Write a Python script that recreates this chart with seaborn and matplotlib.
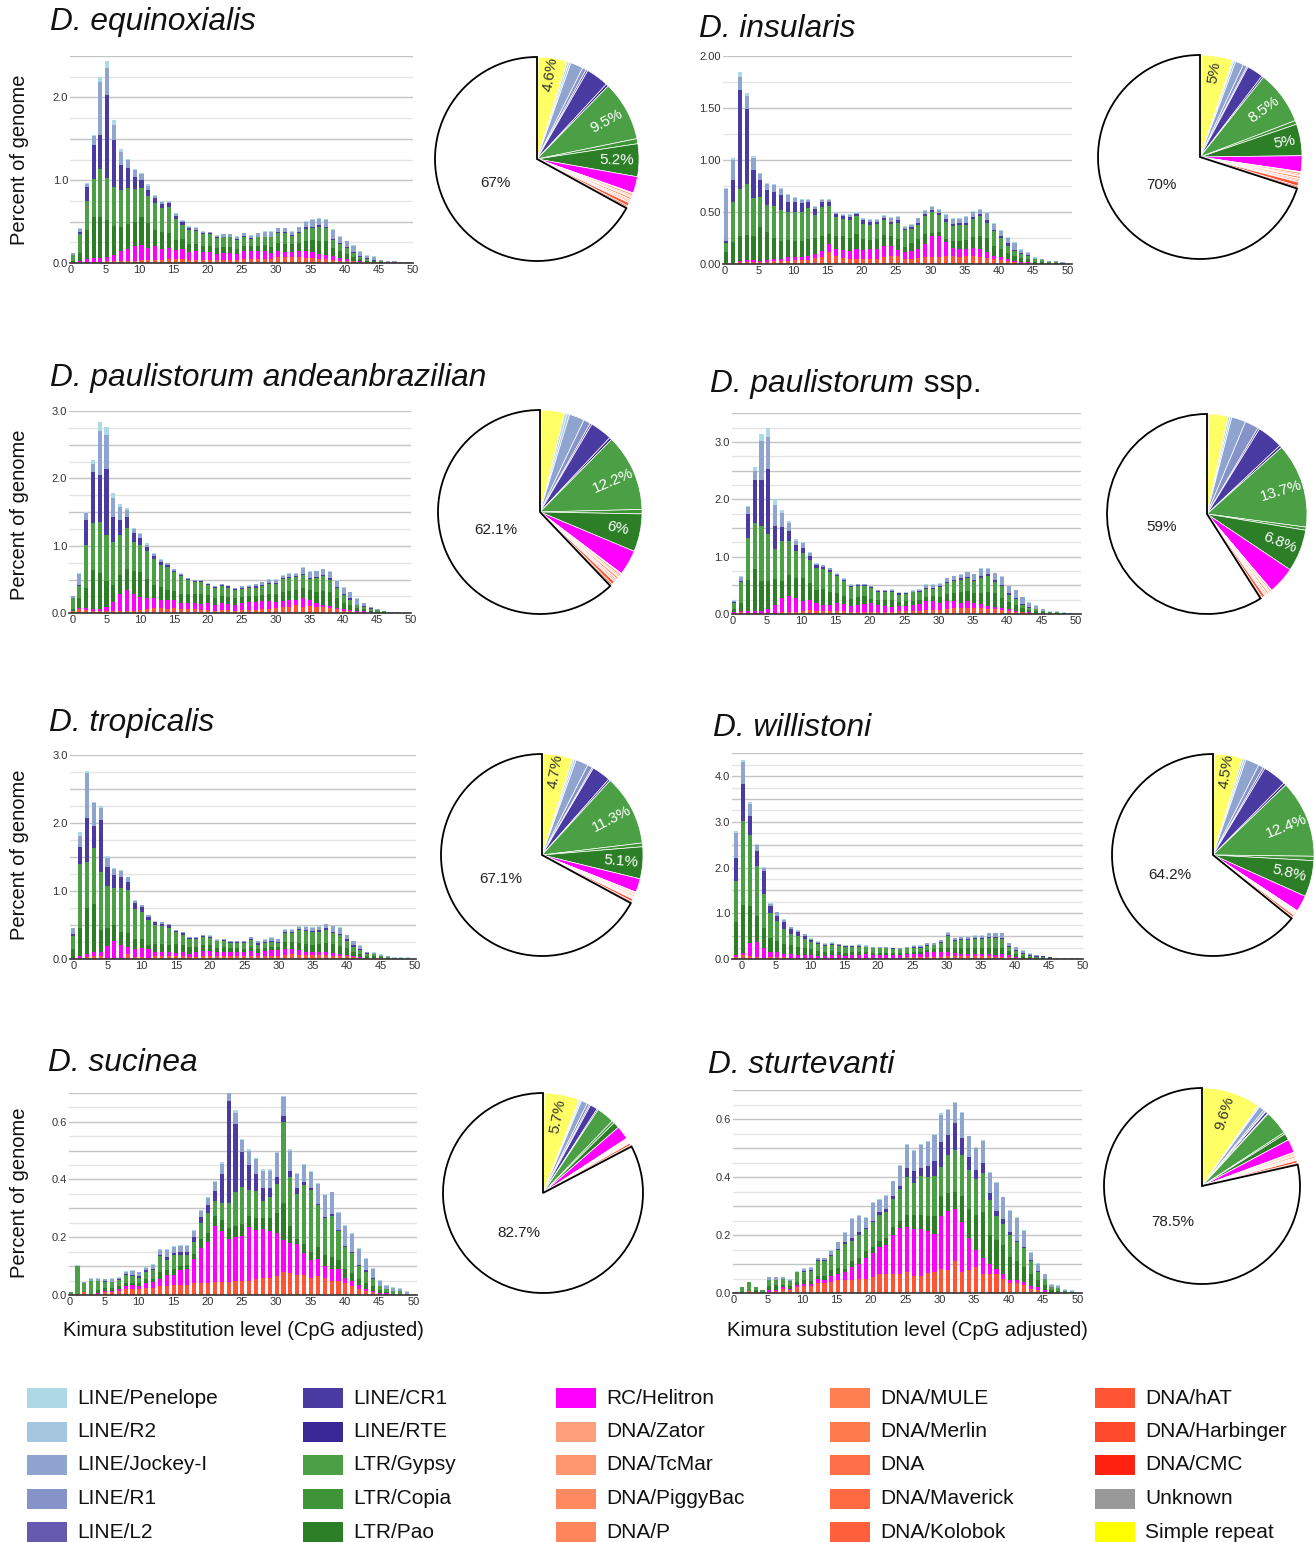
import numpy as np
import pandas as pd
import matplotlib
matplotlib.use("Agg")
import matplotlib.pyplot as plt
from matplotlib.patches import Rectangle
from matplotlib.ticker import MultipleLocator, FuncFormatter
import seaborn as sns

sns.set_theme(style="white")
plt.rcParams["font.family"] = ["Liberation Sans", "DejaVu Sans"]

# ---------------------------------------------------------------- classes
LEGEND_ORDER = [
    "LINE/Penelope", "LINE/R2", "LINE/Jockey-I", "LINE/R1", "LINE/L2",
    "LINE/CR1", "LINE/RTE", "LTR/Gypsy", "LTR/Copia", "LTR/Pao",
    "RC/Helitron", "DNA/Zator", "DNA/TcMar", "DNA/PiggyBac", "DNA/P",
    "DNA/MULE", "DNA/Merlin", "DNA", "DNA/Maverick", "DNA/Kolobok",
    "DNA/hAT", "DNA/Harbinger", "DNA/CMC", "Unknown", "Simple repeat",
]
CLASS_COLORS = [
    "#ADD8E6", "#A6C6E0", "#90A4D0", "#8693C9", "#6559B0",
    "#4A3BA3", "#3A2896", "#4BA045", "#3E9437", "#2C7F27",
    "#FF00FF", "#FFA07A", "#FF9870", "#FF8A62", "#FF855B",
    "#FF7F50", "#FF7A4D", "#FF7048", "#FF6A42", "#FF5F3B",
    "#FF5534", "#FF4A2D", "#FF2211", "#999999", "#FFFF00",
]
PALETTE = dict(zip(LEGEND_ORDER, CLASS_COLORS))

# ------------------------------------------------ repeat landscapes (% genome)
# D. equinoxialis, Kimura bins 0..49
EQU_PEN = [.005, .01, .01, .02, .07, .09, .06, .04, .02, .02,
           .02, .02, .01, .01, .01, .01, .01, .01, .01, .01,
           .01, .005, .005, .005, .005, .005, .005, .005, .005, .005,
           .005, .005, .005, .005, .005, .01, .01, .01, .01, .01,
           .01, .01, .01, .01, .01, .005, .005, 0, .005, 0]
EQU_JOCKEY = [.02, .04, .04, .11, .64, .32, .19, .16, .09, .08,
              .07, .05, .03, .03, .02, .02, .02, .02, .02, .02,
              .01, .02, .03, .03, .03, .03, .03, .04, .06, .06,
              .05, .05, .04, .06, .07, .08, .07, .08, .11, .08,
              .07, .08, .05, .03, .03, .01, .01, .01, .01, .01]
EQU_CR1 = [0, .02, .17, .40, .40, 1.0, .56, .30, .24, .15,
           .09, .07, .06, .05, .04, .04, .03, .02, .01, .01,
           .01, .01, .01, .01, .01, .01, .01, .01, .01, .01,
           .01, .01, .01, .01, .02, .02, .02, .02, .01, .01,
           .01, .01, .01, .01, .01, .005, 0, 0, 0, 0]
EQU_GYPSY = [.07, .23, .35, .46, .58, .51, .47, .44, .44, .39,
             .36, .33, .32, .29, .32, .25, .17, .17, .16, .14,
             .14, .12, .12, .12, .11, .11, .09, .10, .09, .12,
             .12, .13, .10, .12, .14, .14, .17, .16, .10, .09,
             .07, .05, .02, .02, .01, .01, 0, 0, 0, 0]
EQU_PAO = [.02, .10, .35, .50, .50, .45, .35, .30, .30, .30,
           .33, .30, .20, .20, .18, .12, .12, .10, .09, .08,
           .08, .07, .07, .07, .06, .06, .06, .06, .07, .07,
           .09, .10, .10, .10, .12, .15, .16, .16, .10, .08,
           .06, .04, .03, .02, .01, .005, .005, 0, 0, 0]
EQU_HELI = [0, .01, .04, .05, .05, .05, .08, .11, .14, .17,
            .18, .14, .16, .13, .13, .11, .12, .09, .10, .09,
            .09, .07, .08, .08, .07, .10, .09, .10, .10, .07,
            .08, .06, .06, .07, .09, .07, .06, .05, .04, .03,
            .02, .01, .01, 0, 0, 0, 0, .005, 0, 0]
EQU_DNA = [.005, .01, .01, .01, .01, .02, .02, .03, .03, .03,
           .04, .04, .04, .04, .05, .05, .05, .04, .04, .04,
           .04, .04, .04, .04, .04, .05, .05, .05, .05, .05,
           .07, .07, .07, .07, .06, .06, .05, .05, .04, .03,
           .03, .02, .01, .01, .01, .005, .01, .005, 0, 0]

# D. insularis
INS_PEN = [.01, .02, .04, .03, .02, .01, .01, .01, .01, .01,
           .01, .01, .01, .01, .01, .01, .01, .01, .01, .01,
           .01, .01, .01, .01, .01, .01, .005, .005, .005, .01,
           .01, .01, .01, .01, .01, .01, .01, .01, .01, .01,
           .01, .01, .01, .01, .005, .005, .005, .005, .005, .005]
INS_JOCKEY = [.50, .19, .13, .12, .12, .06, .06, .07, .06, .06,
              .04, .03, .02, .02, .02, .02, .01, .01, .02, .01,
              .01, .01, .01, .02, .03, .03, .02, .02, .04, .03,
              .03, .03, .04, .04, .03, .05, .05, .04, .07, .06,
              .05, .05, .06, .03, .02, .01, .01, .01, .01, .01]
INS_CR1 = [.02, .21, .95, .72, .26, .16, .14, .13, .14, .10,
           .10, .09, .06, .06, .05, .04, .03, .03, .03, .02,
           .03, .03, .02, .02, .02, .02, .01, .02, .02, .02,
           .02, .02, .02, .02, .02, .02, .02, .02, .02, .01,
           .02, .02, .01, .01, .01, 0, 0, 0, 0, 0]
INS_GYPSY = [.08, .39, .45, .49, .37, .29, .26, .31, .30, .27,
             .28, .28, .30, .22, .28, .27, .18, .16, .17, .17,
             .15, .15, .15, .14, .12, .16, .16, .14, .14, .17,
             .20, .16, .17, .15, .16, .15, .17, .19, .15, .14,
             .10, .07, .05, .04, .03, .03, .02, .01, .01, .01]
INS_PAO = [.11, .20, .24, .24, .23, .33, .27, .20, .17, .16,
           .15, .15, .16, .15, .14, .10, .12, .13, .12, .14,
           .10, .08, .09, .10, .09, .10, .05, .07, .09, .10,
           .03, .04, .03, .06, .07, .08, .10, .12, .13, .10,
           .08, .06, .05, .04, .03, .02, .02, .01, .01, 0]
INS_HELI = [0, 0, .01, .02, .02, .01, .02, .02, .02, .04,
            .03, .03, .04, .04, .06, .07, .07, .08, .08, .10,
            .09, .10, .10, .11, .10, .06, .07, .08, .09, .12,
            .20, .20, .13, .08, .08, .07, .08, .08, .06, .03,
            .03, .02, .01, .01, .01, 0, 0, 0, 0, 0]
INS_DNA = [.01, .01, .02, .02, .02, .02, .02, .03, .03, .03,
           .04, .04, .04, .06, .07, .12, .08, .06, .05, .05,
           .05, .05, .05, .07, .08, .08, .05, .05, .06, .07,
           .07, .07, .08, .08, .07, .08, .08, .07, .06, .05,
           .04, .03, .02, .01, .01, .005, 0, 0, 0, 0]

# D. paulistorum andeanbrazilian
AND_PEN = [.01, .02, .02, .06, .13, .12, .07, .04, .03, .02,
           .02, .02, .01, .01, .01, .01, .01, .01, .01, .01,
           .01, .01, .01, .01, .01, .01, .01, .01, .01, .01,
           .01, .01, .01, .01, .01, .01, .01, .01, .01, .01,
           .01, .01, .01, .01, 0, .005, 0, 0, 0, 0]
AND_JOCKEY = [.02, .16, .09, .12, .65, .50, .28, .19, .10, .06,
              .05, .04, .03, .03, .02, .02, .02, .01, .01, .01,
              .01, .01, .01, .01, .01, .02, .02, .03, .04, .05,
              .05, .03, .05, .03, .08, .08, .08, .08, .09, .09,
              .09, .09, .08, .04, .02, .02, .01, .01, .01, 0]
AND_CR1 = [.01, .02, .38, .76, .69, .98, .37, .23, .17, .13,
           .10, .06, .04, .04, .03, .02, .02, .02, .02, .02,
           .01, .02, .02, .02, .02, .02, .02, .02, .02, .02,
           .02, .02, .02, .02, .02, .02, .02, .02, .02, .02,
           .02, .02, .01, .01, .01, 0, 0, 0, 0, 0]
AND_GYPSY = [.15, .17, .63, .70, .76, .68, .64, .59, .60, .44,
             .41, .41, .39, .33, .35, .28, .26, .21, .17, .17,
             .15, .14, .15, .14, .12, .12, .12, .12, .13, .14,
             .14, .19, .19, .20, .20, .17, .20, .22, .19, .15,
             .11, .08, .04, .04, .03, .02, .01, .01, 0, 0]
AND_PAO = [.03, .15, .30, .57, .53, .38, .25, .29, .32, .33,
           .37, .28, .20, .20, .14, .14, .13, .13, .14, .15,
           .12, .10, .10, .10, .09, .08, .08, .09, .09, .11,
           .12, .14, .14, .15, .15, .15, .16, .20, .20, .14,
           .10, .07, .04, .03, .02, .02, .01, 0, 0, 0]
AND_HELI = [.01, .02, .03, .04, .04, .07, .14, .25, .30, .25,
            .19, .17, .14, .11, .13, .11, .09, .09, .09, .09,
            .10, .09, .10, .09, .09, .11, .12, .12, .12, .11,
            .09, .08, .09, .07, .12, .08, .06, .03, .03, .02,
            .02, .02, .02, .02, .01, 0, 0, 0, 0, 0]
AND_DNA = [.03, .06, .05, .03, .03, .03, .03, .03, .04, .04,
           .05, .06, .08, .08, .07, .08, .07, .06, .06, .05,
           .05, .04, .05, .05, .04, .05, .05, .05, .06, .07,
           .08, .10, .10, .12, .10, .11, .10, .10, .08, .06,
           .04, .03, .02, .01, .01, .005, .01, 0, .01, .01]

# D. paulistorum ssp.
SSP_PEN = [.01, .01, .02, .07, .12, .16, .10, .04, .03, .02,
           .02, .02, .01, .01, .01, .01, .01, .01, .01, .01,
           .01, .01, .01, .01, .01, .01, .01, .01, .01, .01,
           .01, .01, .01, .01, .01, .01, .01, .01, .01, .01,
           .01, .01, .01, .01, .01, .01, .01, .01, .01, .01]
SSP_JOCKEY = [.02, .08, .11, .16, .68, .55, .37, .25, .14, .08,
              .08, .05, .03, .03, .03, .02, .02, .02, .01, .01,
              .01, .01, .01, .02, .01, .01, .01, .02, .06, .06,
              .04, .06, .07, .06, .08, .10, .13, .10, .12, .14,
              .11, .13, .11, .08, .05, .02, .01, .01, .01, .01]
SSP_CR1 = [.01, .02, .42, .75, .80, 1.13, .40, .24, .17, .10,
           .09, .07, .04, .04, .03, .02, .02, .02, .02, .02,
           .02, .01, .02, .02, .02, .01, .01, .02, .02, .02,
           .02, .02, .02, .02, .02, .02, .03, .03, .03, .02,
           .03, .02, .02, .02, .01, .01, 0, 0, 0, 0]
SSP_GYPSY = [.12, .35, .73, .80, .97, .82, .52, .71, .60, .47,
             .43, .40, .40, .35, .36, .30, .25, .20, .19, .18,
             .18, .14, .14, .14, .13, .13, .15, .13, .13, .12,
             .17, .19, .20, .22, .23, .21, .26, .28, .20, .21,
             .13, .10, .06, .03, .03, .02, .02, .02, .01, 0]
SSP_PAO = [.05, .15, .55, .73, .51, .49, .45, .29, .36, .35,
           .41, .30, .22, .27, .22, .17, .15, .13, .15, .14,
           .08, .10, .10, .12, .07, .08, .08, .07, .08, .09,
           .10, .13, .15, .18, .18, .16, .20, .24, .24, .18,
           .13, .10, .06, .04, .03, .02, .01, .01, 0, 0]
SSP_HELI = [.01, .02, .03, .04, .04, .07, .14, .25, .29, .24,
            .17, .17, .14, .10, .10, .13, .11, .10, .11, .13,
            .15, .11, .10, .08, .09, .09, .10, .12, .15, .15,
            .13, .13, .12, .10, .12, .10, .07, .05, .04, .03,
            .03, .02, .01, .01, .01, 0, 0, 0, 0, 0]
SSP_DNA = [.02, .03, .02, .02, .02, .02, .02, .03, .03, .04,
           .05, .07, .05, .06, .06, .06, .06, .04, .04, .04,
           .04, .04, .04, .04, .05, .05, .05, .06, .07, .07,
           .07, .09, .10, .10, .10, .10, .10, .09, .08, .07,
           .05, .04, .03, .02, .01, .01, 0, 0, 0, 0]

# D. tropicalis
TRO_PEN = [.01, .06, .04, .02, .03, .02, .01, .01, .01, .01,
           .01, .01, .01, .01, .01, .01, .01, .01, .01, .01,
           .01, .01, .01, .01, .01, .01, .01, .01, .01, .01,
           .01, .01, .01, .01, .01, .01, .01, .01, .01, .01,
           .01, .01, .01, .01, .01, .01, .01, .01, .01, .01]
TRO_JOCKEY = [.08, .17, .65, .34, .17, .13, .10, .10, .07, .03,
              .03, .02, .01, .02, .01, .01, .01, .01, .01, .01,
              .01, .01, .01, .01, .01, .01, .03, .03, .03, .04,
              .04, .04, .03, .03, .04, .05, .05, .06, .08, .09,
              .06, .06, .05, .01, .01, .01, .01, .01, .01, .01]
TRO_CR1 = [.03, .25, .65, .32, .77, .28, .18, .15, .11, .09,
           .07, .05, .04, .04, .04, .02, .02, .02, .01, .01,
           .02, .01, .01, .01, .01, .01, .01, .02, .02, .02,
           .01, .01, .02, .02, .02, .02, .02, .02, .02, .02,
           .02, .02, .01, .01, .01, 0, 0, 0, 0, 0]
TRO_GYPSY = [.19, .93, .68, .82, .85, .63, .55, .66, .64, .45,
             .39, .36, .28, .26, .25, .17, .16, .12, .13, .12,
             .10, .10, .10, .08, .08, .09, .10, .07, .07, .07,
             .06, .13, .13, .18, .19, .18, .18, .20, .16, .16,
             .11, .07, .05, .03, .03, .02, .02, .01, .01, .01]
TRO_PAO = [.14, .42, .68, .71, .33, .26, .24, .18, .20, .15,
           .14, .07, .11, .11, .11, .13, .10, .10, .07, .09,
           .09, .06, .07, .06, .06, .05, .06, .05, .04, .05,
           .05, .10, .10, .11, .11, .10, .12, .13, .13, .12,
           .10, .07, .05, .03, .03, .02, .01, 0, 0, 0]
TRO_HELI = [.01, .02, .04, .06, .06, .17, .24, .19, .11, .11,
            .13, .13, .07, .07, .06, .05, .06, .04, .07, .08,
            .08, .06, .06, .06, .06, .06, .07, .05, .07, .08,
            .08, .09, .08, .07, .05, .05, .04, .04, .04, .03,
            .02, .01, .01, .01, 0, 0, 0, 0, 0, 0]
TRO_DNA = [0, .02, .03, .04, .04, .02, .02, .02, .07, .03,
           .03, .01, .04, .04, .04, .04, .04, .03, .03, .04,
           .04, .04, .04, .04, .04, .04, .05, .04, .05, .05,
           .05, .06, .07, .06, .06, .06, .06, .06, .05, .04,
           .04, .03, .02, .01, .01, .01, 0, 0, 0, 0]

# D. willistoni, Kimura bins -1..49
WIL_PEN = [.05, .06, .04, .02, .02, .01, .01, .01, .01, .01,
           .01, .01, .01, .01, .01, .01, .01, .01, .01, .01,
           .01, .01, .01, .01, .01, .01, .01, .01, .01, .01,
           .01, .01, .01, .01, .01, .01, .01, .01, .01, .01,
           .01, .01, .01, .01, .01, 0, 0, 0, 0, 0,
           0]
WIL_JOCKEY = [.55, .48, .28, .14, .08, .06, .08, .06, .03, .04,
              .04, .02, .02, .02, .03, .02, .01, .01, .03, .02,
              .01, .01, .01, .01, .01, .02, .03, .03, .04, .03,
              .04, .05, .03, .04, .04, .06, .06, .08, .08, .09,
              .06, .06, .04, .03, .02, .01, .01, .01, .01, .01,
              .01]
WIL_CR1 = [.50, .80, .41, .33, .50, .14, .11, .14, .11, .08,
           .07, .04, .03, .02, .02, .02, .01, .01, .01, .01,
           .01, .01, .01, .01, .01, .01, .01, .01, .01, .01,
           .02, .02, .02, .02, .02, .02, .02, .02, .03, .03,
           .02, .02, .02, .02, .01, .02, .01, 0, 0, 0,
           0]
WIL_GYPSY = [.88, 1.84, 1.54, 1.08, .74, .56, .43, .33, .25, .23,
             .20, .17, .16, .13, .14, .12, .13, .12, .12, .11,
             .10, .10, .10, .09, .08, .09, .09, .09, .09, .09,
             .12, .25, .16, .18, .19, .19, .20, .21, .20, .20,
             .10, .07, .05, .02, .02, .01, .02, .01, .01, .01,
             .01]
WIL_PAO = [.73, 1.05, .81, .57, .44, .30, .25, .22, .20, .18,
           .14, .12, .10, .09, .08, .08, .07, .06, .06, .05,
           .05, .05, .05, .05, .05, .04, .04, .04, .05, .06,
           .08, .10, .10, .12, .13, .12, .13, .15, .16, .14,
           .09, .06, .04, .03, .02, .02, .01, .01, 0, 0,
           0]
WIL_HELI = [.04, .05, .29, .34, .21, .11, .11, .07, .07, .06,
            .06, .06, .04, .04, .06, .05, .04, .06, .06, .07,
            .06, .06, .06, .05, .05, .06, .08, .08, .10, .10,
            .10, .09, .08, .06, .04, .05, .04, .04, .04, .05,
            .04, .02, .01, .01, 0, 0, 0, 0, 0, 0,
            0]
WIL_DNA = [.05, .08, .07, .04, .03, .04, .04, .04, .03, .03,
           .03, .03, .03, .03, .03, .03, .03, .03, .03, .03,
           .03, .03, .03, .03, .03, .04, .04, .04, .05, .05,
           .05, .06, .06, .06, .06, .07, .06, .06, .05, .05,
           .04, .03, .02, .01, .01, .01, 0, 0, 0, 0,
           0]

# D. sucinea
SUC_PEN = [0, .004, 0, .003, .003, .003, .003, .003, .003, .003,
           .003, .003, .003, .003, .003, .003, .003, .003, .003, .005,
           .005, .005, .005, .01, .01, .005, .005, .005, .005, .005,
           .005, .005, .005, .003, .003, .003, .003, .003, .003, .003,
           .003, .003, .003, .003, .003, .003, .003, .003, .003, .003]
SUC_JOCKEY = [0, 0, .005, .005, .006, .007, .01, .006, .007, .013,
              .012, .01, .015, .015, .025, .02, .022, .02, .022, .02,
              .025, .03, .035, .03, .04, .04, .05, .05, .06, .06,
              .08, .065, .07, .05, .06, .055, .07, .075, .075, .06,
              .07, .06, .055, .04, .03, .02, .01, .01, .005, .007]
SUC_CR1 = [0, 0, 0, 0, 0, .002, 0, .002, .004, .005,
           .006, .005, .005, .005, .01, .008, .008, .01, .015, .02,
           .027, .035, .10, .35, .235, .12, .085, .06, .045, .03,
           .025, .02, .02, .02, .01, .005, .005, .005, .005, .005,
           .005, .005, .005, .005, .005, 0, 0, 0, 0, 0]
SUC_GYPSY = [.008, .095, .03, .045, .032, .02, .02, .022, .027, .022,
             .018, .025, .028, .055, .035, .047, .04, .035, .042, .057,
             .068, .05, .06, .087, .115, .13, .09, .095, .06, .075,
             .10, .28, .17, .155, .205, .215, .145, .125, .145, .10,
             .075, .07, .045, .04, .025, .013, .008, .01, .01, .005]
SUC_PAO = [0, 0, 0, 0, .01, .01, .01, .01, .01, .01,
           .01, .012, .012, .025, .015, .02, .015, .015, .02, .03,
           .03, .035, .04, .04, .04, .04, .04, .04, .035, .045,
           .07, .13, .06, .02, .03, .03, .04, .04, .04, .03,
           .03, .025, .02, .02, .015, .01, .005, .005, .005, 0]
SUC_HELI = [0, 0, 0, 0, .002, .003, .003, .005, .012, .013,
            .012, .018, .02, .025, .04, .035, .05, .055, .083, .123,
            .145, .195, .175, .148, .15, .155, .185, .17, .17, .16,
            .15, .11, .105, .105, .075, .06, .06, .04, .04, .04,
            .02, .02, .015, .005, .005, .002, .005, 0, 0, 0]
SUC_DNA = [.002, .005, .01, .005, .005, .012, .012, .015, .02, .02,
           .02, .025, .025, .03, .03, .035, .035, .035, .04, .04,
           .04, .045, .045, .045, .05, .05, .05, .055, .06, .06,
           .065, .08, .075, .07, .07, .06, .065, .06, .05, .05,
           .04, .03, .02, .015, .01, .005, .002, 0, 0, 0]

# D. sturtevanti
STU_PEN = [0, 0, 0, 0, 0, .002, .002, .002, .002, .002,
           .002, .002, .003, .003, .003, .003, .003, .003, .003, .003,
           .003, .003, .003, .003, .003, .003, .003, .003, .003, .003,
           .005, .005, .005, .005, .003, .003, .003, .003, .003, .003,
           .003, .003, .003, .003, .003, .003, .003, .002, .002, .002]
STU_JOCKEY = [.002, 0, .002, .002, 0, .01, .01, .007, .004, .002,
              .007, .007, .007, .005, .012, .022, .032, .065, .055, .035,
              .06, .04, .045, .05, .07, .08, .07, .08, .08, .09,
              .095, .085, .07, .085, .07, .075, .075, .07, .095, .075,
              .075, .08, .055, .025, .023, .015, .008, .007, .004, .003]
STU_CR1 = [0, 0, 0, 0, 0, 0, 0, 0, 0, 0,
           .003, .003, .003, .005, .005, .005, .005, .01, .01, .005,
           .005, .01, .01, .01, .01, .03, .04, .025, .04, .05,
           .085, .07, .09, .06, .045, .03, .035, .025, .02, .015,
           .01, .005, .005, .005, .002, 0, 0, 0, 0, 0]
STU_GYPSY = [.003, .02, .03, .008, .01, .02, .018, .018, .018, .035,
             .03, .035, .05, .05, .048, .061, .085, .07, .08, .075,
             .085, .09, .09, .095, .11, .13, .11, .135, .135, .14,
             .10, .13, .145, .14, .135, .125, .135, .12, .08, .075,
             .075, .065, .065, .045, .03, .02, .012, .01, .008, .005]
STU_PAO = [0, 0, 0, .007, 0, .015, .015, .01, .01, .01,
           .012, .01, .01, .015, .02, .02, .01, .02, .02, .025,
           .02, .02, .025, .03, .025, .04, .05, .05, .05, .06,
           .07, .06, .06, .09, .10, .12, .16, .10, .10, .10,
           .08, .065, .05, .04, .025, .02, .01, .008, 0, 0]
STU_HELI = [0, 0, 0, 0, 0, .005, .005, .005, .003, .008,
            .008, .007, .015, .01, .02, .022, .03, .045, .05, .07,
            .085, .095, .10, .135, .16, .155, .16, .16, .145, .13,
            .18, .205, .18, .17, .11, .06, .055, .035, .02, .015,
            .01, .01, .01, .01, .01, .005, 0, 0, 0, 0]
STU_DNA = [0, 0, .008, .005, 0, .005, .007, .015, .012, .02,
           .025, .025, .035, .035, .04, .045, .045, .045, .05, .05,
           .055, .065, .065, .065, .065, .075, .06, .06, .07, .075,
           .085, .08, .11, .075, .08, .09, .065, .065, .065, .05,
           .035, .035, .03, .015, .01, .005, 0, 0, 0, 0]

# ------------------------------------------------- genome composition (%)
PIE_CLASSES = [
    "Unknown", "Simple repeat", "LINE/Penelope", "LINE/R2", "LINE/Jockey-I",
    "LINE/R1", "LINE/L2", "LINE/CR1", "LINE/RTE", "LTR/Gypsy", "LTR/Copia",
    "LTR/Pao", "RC/Helitron", "DNA/Zator", "DNA/TcMar", "DNA/PiggyBac",
    "DNA/P", "DNA/MULE", "DNA/Merlin", "DNA", "DNA/Maverick", "DNA/Kolobok",
    "DNA/hAT", "DNA/Harbinger", "DNA/CMC", "Unmasked",
]
EQU_PIE = [.2, 4.6, .3, .3, 2.0, .6, .3, 3.6, .4, 9.5, .8, 5.2, 2.6,
           .15, .3, .2, .15, .3, .1, .2, .2, .1, .5, .25, .15, 67]
INS_PIE = [.2, 5, .2, .3, 1.3, .6, .2, 2.6, .3, 8.5, .6, 5, 2.5,
           .15, .3, .2, .15, .3, .1, .2, .2, .1, .6, .25, .15, 70]
AND_PIE = [.2, 3.7, .4, .4, 2.4, 1.1, .3, 3.5, .4, 12.2, .7, 6, 4.0,
           .15, .3, .2, .15, .3, .1, .2, .2, .1, .5, .25, .15, 62.1]
SSP_PIE = [.3, 3.1, .3, .3, 2.3, 2.2, .3, 4.2, .4, 13.7, .5, 6.8, 4.4,
           .1, .25, .15, .15, .25, .1, .2, .15, .1, .45, .2, .1, 59]
TRO_PIE = [.2, 4.7, .3, .3, 2.0, .8, .2, 3.0, .3, 11.3, .6, 5.1, 2.2,
           .1, .2, .15, .1, .2, .1, .15, .15, .05, .4, .2, .1, 67.1]
WIL_PIE = [.2, 4.5, .3, .3, 2.2, .8, .3, 3.8, .4, 12.4, .7, 5.8, 2.6,
           .1, .15, .1, .1, .15, .05, .1, .1, .05, .35, .15, .1, 64.2]
SUC_PIE = [.2, 5.7, .2, .2, 1.0, .4, .2, 1.2, .2, 2.9, .4, 1.0, 2.2,
           .1, .15, .1, .1, .15, .05, .1, .1, .05, .35, .15, .1, 82.7]
STU_PIE = [.1, 9.6, .1, .2, .9, .3, .1, .4, .1, 4.0, .3, 1.1, 2.2,
           .15, .25, .15, .1, .25, .1, .15, .15, .1, .4, .2, .1, 78.5]

# ------------------------------------------------------------ panels
TITLES = [("D. equinoxialis", ""), ("D. insularis", ""),
          ("D. paulistorum andeanbrazilian", ""), ("D. paulistorum", " ssp."),
          ("D. tropicalis", ""), ("D. willistoni", ""),
          ("D. sucinea", ""), ("D. sturtevanti", "")]
FIRST_BIN = [0, 0, 0, 0, 0, -1, 0, 0]


def landscape(pen, jockey, cr1, gypsy, pao, heli, dna):
    return {"LINE/Penelope": pen, "LINE/Jockey-I": jockey, "LINE/CR1": cr1,
            "LTR/Gypsy": gypsy, "LTR/Pao": pao, "RC/Helitron": heli,
            "DNA/hAT": dna}


LANDSCAPES = [
    landscape(EQU_PEN, EQU_JOCKEY, EQU_CR1, EQU_GYPSY, EQU_PAO, EQU_HELI, EQU_DNA),
    landscape(INS_PEN, INS_JOCKEY, INS_CR1, INS_GYPSY, INS_PAO, INS_HELI, INS_DNA),
    landscape(AND_PEN, AND_JOCKEY, AND_CR1, AND_GYPSY, AND_PAO, AND_HELI, AND_DNA),
    landscape(SSP_PEN, SSP_JOCKEY, SSP_CR1, SSP_GYPSY, SSP_PAO, SSP_HELI, SSP_DNA),
    landscape(TRO_PEN, TRO_JOCKEY, TRO_CR1, TRO_GYPSY, TRO_PAO, TRO_HELI, TRO_DNA),
    landscape(WIL_PEN, WIL_JOCKEY, WIL_CR1, WIL_GYPSY, WIL_PAO, WIL_HELI, WIL_DNA),
    landscape(SUC_PEN, SUC_JOCKEY, SUC_CR1, SUC_GYPSY, SUC_PAO, SUC_HELI, SUC_DNA),
    landscape(STU_PEN, STU_JOCKEY, STU_CR1, STU_GYPSY, STU_PAO, STU_HELI, STU_DNA),
]
PIES = [EQU_PIE, INS_PIE, AND_PIE, SSP_PIE, TRO_PIE, WIL_PIE, SUC_PIE, STU_PIE]

# geometry in pixels: x of tick 0, x of tick 50, y of baseline, y of top
BAR_BOX = [(71, 413, 263, 56), (724.3, 1067.7, 264.3, 55.7),
           (72.3, 411, 613.3, 411), (732.7, 1076, 614, 413.3),
           (73.3, 415, 959, 755), (741.7, 1082.7, 959, 753.3),
           (70, 413.3, 1295, 1092.7), (733.3, 1077.3, 1293.3, 1090)]
XLIM = [(-0.1, 50), (-0.2, 50.6), (-0.45, 50), (-0.15, 50.8),
        (-0.5, 50.2), (-1.4, 50), (-0.1, 50.5), (-0.1, 50.7)]
BAR_SHIFT = [0.3, 0.25, 0.05, 0.2, 0.0, 0.22, 0.1, 0.25]
# ymax, grid step (dark), grid step (light), label step, label format
YAXIS = [(2.5, .5, .25, 1.0, "%.1f"), (2.0, .5, .25, .5, "%.2f"),
         (3.0, .5, .25, 1.0, "%.1f"), (3.5, .5, .25, 1.0, "%.1f"),
         (3.0, .5, .25, 1.0, "%.1f"), (4.5, .5, .25, 1.0, "%.1f"),
         (.7, .1, .05, .2, "%.1f"), (.7, .1, .05, .2, "%.1f")]
PIE_BOX = [(537, 159, 102), (1200, 157, 102), (540, 512, 102), (1207, 514, 100),
           (542, 855, 101), (1213, 855, 101), (543, 1193, 100), (1202, 1186, 98)]
TITLE_XY = [(50, 22), (699, 29), (50, 378), (710, 384),
            (49, 723), (713, 728), (48, 1063), (708, 1065)]

W, H = 1314, 1542
fig = plt.figure(figsize=(W / 100, H / 100), dpi=100)
fig.patch.set_facecolor("white")


def px_axes(x, y, w, h):
    return fig.add_axes([x / W, 1 - (y + h) / H, w / W, h / H])


def draw_landscape(i):
    x0, x50, yb, yt = BAR_BOX[i]
    xl, xr = XLIM[i]
    s = (x50 - x0) / 50
    ax = px_axes(x0 + xl * s, yt, (xr - xl) * s, yb - yt)
    series = LANDSCAPES[i]
    start = FIRST_BIN[i]
    shift = BAR_SHIFT[i]
    rows = []
    for cls, vals in series.items():
        for k, v in enumerate(vals):
            rows.append((start + k + shift, cls, v))
    df = pd.DataFrame(rows, columns=["kimura", "repeat", "pct"])
    n = max(len(v) for v in series.values())
    edges = [float(e) for e in np.arange(start, start + n + 1) + shift - 0.5]
    order = [c for c in LEGEND_ORDER if c in series]
    sns.histplot(data=df, x="kimura", weights="pct", hue="repeat",
                 hue_order=order, palette=PALETTE, multiple="stack",
                 bins=edges, shrink=0.6, alpha=1, linewidth=0,
                 legend=False, ax=ax)
    ymax, major, minor, lab, fmt = YAXIS[i]
    ax.set_xlim(xl, xr)
    ax.set_ylim(0, ymax)
    ax.set_xlabel("")
    ax.set_ylabel("")
    ax.set_xticks(np.arange(0, 51, 5))
    ax.set_xticklabels([str(v) for v in range(0, 51, 5)])
    ax.yaxis.set_major_locator(MultipleLocator(major))
    ax.yaxis.set_minor_locator(MultipleLocator(minor))

    def yfmt(v, _):
        q = v / lab
        return fmt % v if abs(q - round(q)) < 1e-6 else ""
    ax.yaxis.set_major_formatter(FuncFormatter(yfmt))
    ax.tick_params(axis="both", which="both", length=0, labelsize=8,
                   labelcolor="#333333", pad=1.5)
    ax.grid(axis="y", which="major", color="#c4c4c4", linewidth=1)
    ax.grid(axis="y", which="minor", color="#e4e4e4", linewidth=1)
    ax.grid(axis="x", visible=False)
    ax.set_axisbelow(True)
    for sp in ("top", "right", "left"):
        ax.spines[sp].set_visible(False)
    ax.spines["bottom"].set_color("#333333")
    ax.spines["bottom"].set_linewidth(1.2)
    ax.patch.set_alpha(0)
    return ax


PIE_COLORS = dict(PALETTE)
PIE_COLORS["Simple repeat"] = "#FFFF66"
PIE_COLORS["Unmasked"] = "white"


def draw_pie(i):
    cx, cy, r = PIE_BOX[i]
    ax = px_axes(cx - 1.02 * r, cy - 1.02 * r, 2.04 * r, 2.04 * r)
    values = PIES[i]
    colors = [PIE_COLORS[c] for c in PIE_CLASSES]
    wedges, _ = ax.pie(values, colors=colors, startangle=90,
                       counterclock=False, radius=1,
                       wedgeprops=dict(edgecolor="white", linewidth=0.5))
    wedges[-1].set_edgecolor("black")
    wedges[-1].set_linewidth(1.3)
    wedges[-1].set_zorder(3)
    total = float(sum(values))
    cum = 0.0
    for cls, v in zip(PIE_CLASSES, values):
        f0 = cum / total
        cum += v
        f1 = cum / total
        if v < 4.5:
            continue
        mid = 90 - 360 * (f0 + f1) / 2
        if cls == "Unmasked":
            rad, rot, col = 0.47, 0, "#222222"
        else:
            rad = 0.84 if v < 5.1 else 0.78
            rot = ((mid + 90) % 180) - 90
            col = "#333333" if cls == "Simple repeat" else "white"
        ax.text(rad * np.cos(np.radians(mid)), rad * np.sin(np.radians(mid)),
                f"{v:g}%", ha="center", va="center", rotation=rot,
                rotation_mode="anchor", fontsize=11, color=col, zorder=5)
    ax.set_xlim(-1.02, 1.02)
    ax.set_ylim(-1.02, 1.02)
    ax.set_axis_off()


for i in range(8):
    draw_landscape(i)
    draw_pie(i)

# panel titles
renderer = fig.canvas.get_renderer()
for (main, extra), (tx, ty) in zip(TITLES, TITLE_XY):
    t = fig.text(tx / W, 1 - ty / H, main, fontsize=22.8, style="italic",
                 va="center", ha="left", color="#111111")
    if extra:
        bb = t.get_window_extent(renderer)
        fig.text((bb.x1 + 1) / W, 1 - ty / H, extra, fontsize=22.8,
                 va="center", ha="left", color="#111111")

for yc in (160, 515, 855, 1193):
    fig.text(20 / W, 1 - yc / H, "Percent of genome", rotation=90,
             fontsize=14.5, va="center", ha="center", color="#111111")
for xc in (243, 907):
    fig.text(xc / W, 1 - 1330 / H, "Kimura substitution level (CpG adjusted)",
             fontsize=14.5, va="center", ha="center", color="#111111")

# legend, five columns of five
COL_X = [27, 303, 556, 830, 1095]
ROW_Y = [1398, 1431.5, 1465, 1498.5, 1532]
for j, cls in enumerate(LEGEND_ORDER):
    c, r = divmod(j, 5)
    x, y = COL_X[c], ROW_Y[r]
    fig.add_artist(Rectangle((x / W, 1 - (y + 10) / H), 40 / W, 20 / H,
                             transform=fig.transFigure,
                             facecolor=PALETTE[cls], edgecolor="none"))
    fig.text((x + 50) / W, 1 - y / H, cls, fontsize=15, va="center",
             ha="left", color="#111111")

fig.savefig("out.png", dpi=100, facecolor="white")
